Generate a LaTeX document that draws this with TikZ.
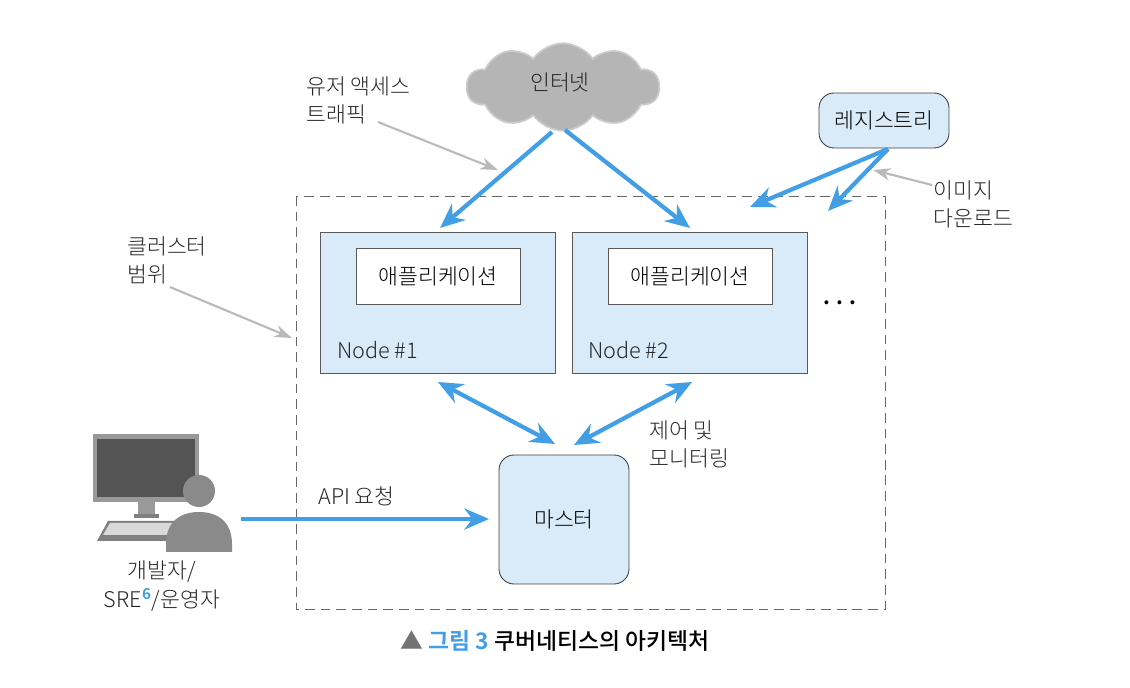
\documentclass[tikz,border=0pt]{standalone}
\usepackage{fontspec}
\setmainfont[BoldFont={Noto Sans CJK KR Bold}]{Noto Sans CJK KR Light}
\newfontfamily\medfont{Noto Sans CJK KR Medium}
\usetikzlibrary{positioning,calc,arrows,arrows.meta,shapes.symbols}
\definecolor{flow}{HTML}{429FE5}
\definecolor{boxfill}{HTML}{D9EBF9}
\definecolor{note}{HTML}{B9B9B9}
\tikzset{font=\fontsize{12.3pt}{16pt}\selectfont,
	flowline/.style={draw=flow, line width=2.4pt, -{Stealth[length=14pt,width=12pt]}},
	twoway/.style={draw=flow, line width=2.4pt, {Stealth[length=14pt,width=12pt]}-{Stealth[length=14pt,width=12pt]}},
	noteline/.style={draw=note, line width=1.2pt, -{Stealth[length=10pt,width=7pt]}},
	nodebox/.style={draw=black!65, fill=boxfill, line width=0.5pt, minimum width=4.7cm, minimum height=2.82cm},
	appbox/.style={draw=black!65, fill=white, line width=0.5pt, minimum width=3.28cm, minimum height=1.12cm},
	roundbox/.style={draw=black!75, fill=boxfill, line width=0.5pt, rounded corners=0.3cm},
	label/.style={align=left, anchor=west, inner sep=0pt, text=black!85}}

\begin{document}
\begin{tikzpicture}[x=0.02cm, y=-0.02cm]
	\useasboundingbox (0, 0) rectangle (1130, 688);
	% cluster boundary
	\draw [dashed, dash pattern=on 5.5pt off 3.4pt, draw=black!60, line width=0.5pt] (296, 196) rectangle (885, 609);

	\node [cloud, cloud puffs=10, cloud puff arc=110, aspect=2.1, fill=black!29, draw=black!20, line width=1pt,
		minimum width=3.85cm, minimum height=1.75cm, inner sep=0pt] (internet) at (563, 87) {};
	\node [text=black!85] (internettext) at (560, 82) {인터넷};
	\node [roundbox, minimum width=2.6cm, minimum height=1.1cm] (registry) at (884, 120.5) {레지스트리};

	\node [nodebox] (node1) at (437.5, 302.5) {};
	\node [nodebox] (node2) at (689.5, 302.5) {};
	\node [appbox] (app1) at (438, 276) {애플리케이션};
	\node [appbox] (app2) at (690, 276) {애플리케이션};
	\node [label] (name1) at (337, 350) {Node \#1};
	\node [label] (name2) at (588, 350) {Node \#2};
	\node [font=\fontsize{12pt}{12pt}\selectfont\bfseries] (more) at (840, 303) {. . .};
	\node [roundbox, minimum width=2.6cm, minimum height=2.58cm] (master) at (564, 519.5) {마스터};

	\node [label] (traffic) at (306, 100) {유저 액세스\\트래픽};
	\node [label] (scope) at (127, 260) {클러스터\\범위};
	\node [label] (download) at (933, 204) {이미지\\다운로드};
	\node [label] (control) at (649, 444) {제어 및\\모니터링};
	\node [label] (api) at (318, 496) {API 요청};
	\node [align=center, inner sep=0pt, text=black!85] (user) at (162, 586) {개발자/\\SRE\textsuperscript{\textcolor{flow}{\bfseries 6}}/운영자};

	% free ends of the connectors
	\coordinate (c1) at (552, 132);
	\coordinate (c2) at (565, 130);
	\coordinate (n1top) at (440, 228);
	\coordinate (n2top) at (690, 228);
	\coordinate (r1) at (888, 149);
	\coordinate (r2) at (750, 207);
	\coordinate (r3) at (828, 211);
	\coordinate (n1low) at (438, 382);
	\coordinate (n2low) at (692, 382);
	\coordinate (m1) at (555, 444);
	\coordinate (m2) at (574, 445);
	\coordinate (a1) at (241, 519);
	\coordinate (a2) at (489, 519);

	\draw [flowline] (c1) to (n1top);
	\draw [flowline] (c2) to (n2top);
	\draw [flowline] (r1) to (r2);
	\draw [flowline] (r1) to (r3);
	\draw [twoway] (n1low) to (m1);
	\draw [twoway] (n2low) to (m2);
	\draw [flowline] (a1) to (a2);

	\coordinate (t1) at (378, 122);
	\coordinate (t2) at (498, 170);
	\coordinate (s1) at (170, 287);
	\coordinate (s2) at (292, 338);
	\coordinate (d1) at (932, 185);
	\coordinate (d2) at (873, 170);
	\draw [noteline] (t1) to (t2);
	\draw [noteline] (s1) to (s2);
	\draw [noteline] (d1) to (d2);

	% computer and person
	\fill [black!40] (93, 434) rectangle (199, 502);
	\fill [black!67] (97, 439) rectangle (195, 497);
	\fill [black!40] (138, 502) rectangle (155, 514);
	\fill [black!50] (134, 514) rectangle (159, 518);
	\fill [black!50] (108, 521) -- (190, 521) -- (190, 541) -- (97, 541) -- cycle;
	\fill [black!15] (110, 523) -- (188, 523) -- (188, 535) -- (103, 535) -- cycle;
	\fill [black!46] (199, 491) circle (16);
	\fill [black!46] (166, 552) -- (166, 544) .. controls (166, 522) and (180, 512) .. (199, 512) .. controls (218, 512) and (232, 522) .. (232, 544) -- (232, 552) -- cycle;

	% caption
	\node [inner sep=0pt, font=\fontsize{13pt}{14pt}\selectfont] (caption) at (555, 641) {\textcolor{black!55}{▲} \textcolor{flow}{\bfseries 그림 3} \textcolor{black}{\medfont 쿠버네티스의 아키텍처}};
\end{tikzpicture}
\end{document}
